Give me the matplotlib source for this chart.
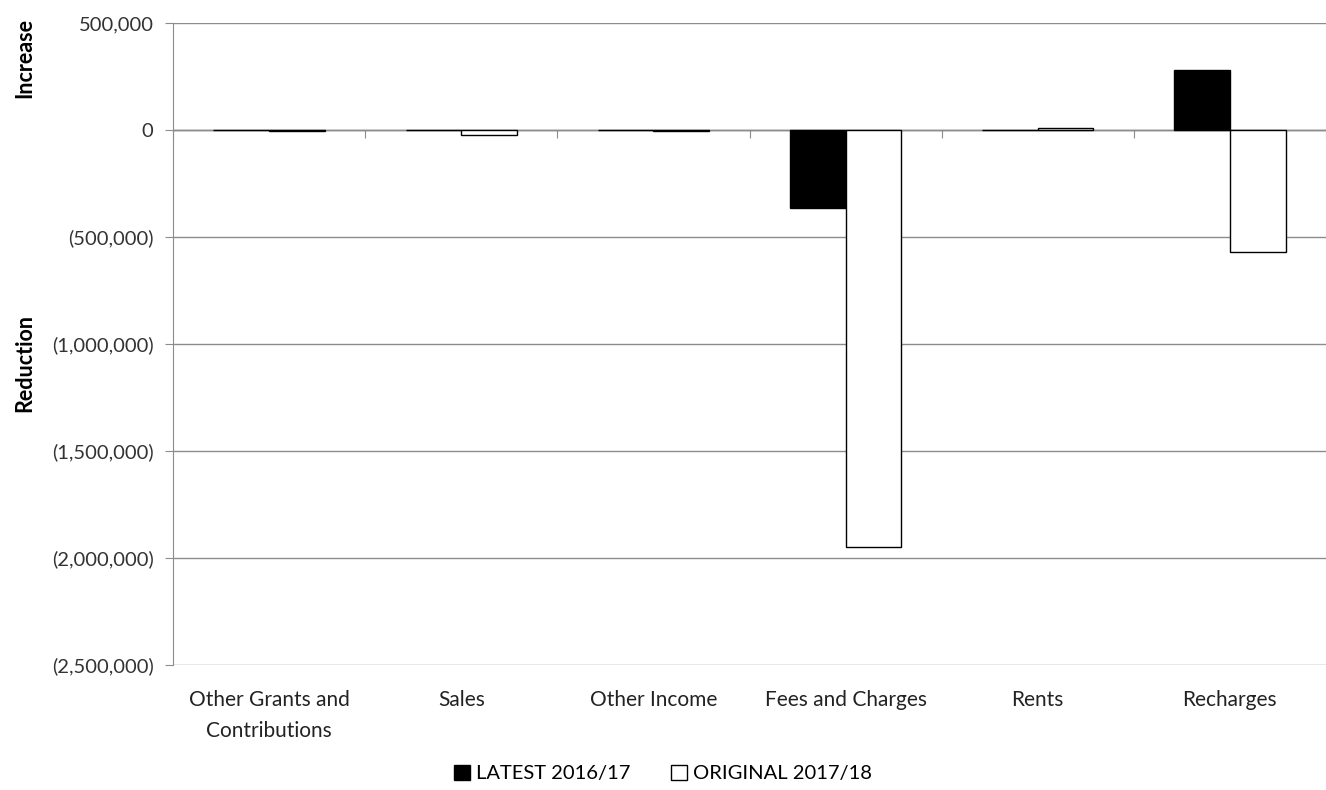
import matplotlib
matplotlib.use('Agg')
from matplotlib import pyplot as plt
import numpy as np

categories = ['Other Grants and\nContributions', 'Sales', 'Other Income',
              'Fees and Charges', 'Rents', 'Recharges']
latest = [0, -2000, 2000, -365000, -2000, 282000]
original = [-5000, -25000, -3000, -1950000, 10000, -570000]
series_names = ['LATEST 2016/17', 'ORIGINAL 2017/18']
y_ticks = [500000, 0, -500000, -1000000, -1500000, -2000000, -2500000]

plt.rcParams['font.family'] = ['Lato', 'DejaVu Sans']

fig = plt.figure(figsize=(13.26, 7.9), dpi=100)
ax = fig.add_axes([0.1305, 0.158, 0.8695, 0.813])

x = np.arange(len(categories))
w = 0.29
ax.bar(x - w / 2, latest, w, color='black', edgecolor='black', linewidth=1,
       label=series_names[0], zorder=3)
ax.bar(x + w / 2, original, w, color='white', edgecolor='black', linewidth=1,
       label=series_names[1], zorder=3)

ymin, ymax = -2500000, 500000
ax.set_ylim(ymin, ymax)
ax.set_xlim(-0.5, len(categories) - 0.5)

def fmt(v):
    if v < 0:
        return '({:,})'.format(int(-v))
    return '{:,}'.format(int(v))

ax.set_yticks(y_ticks)
ax.set_yticklabels([fmt(v) for v in y_ticks], fontsize=14.5, color='#333333')
ax.yaxis.grid(True, color='#8c8c8c', linewidth=1, zorder=0)
ax.tick_params(axis='y', direction='out', length=6, color='#8c8c8c', pad=8)

ax.set_xticks(x)
ax.set_xticklabels(categories, fontsize=15, color='#222222', linespacing=1.65)
ax.tick_params(axis='x', length=0, pad=18)

for side in ['top', 'right', 'bottom']:
    ax.spines[side].set_visible(False)
ax.spines['left'].set_color('#8c8c8c')

# zero line with category separator ticks
ax.axhline(0, color='#8c8c8c', linewidth=1, zorder=2)
zero_pos = (0 - ymin) / (ymax - ymin)
sec = ax.secondary_xaxis(zero_pos)
sec.set_xticks(np.arange(len(categories) + 1) - 0.5)
sec.set_xticklabels([])
sec.tick_params(length=6, color='#8c8c8c', direction='in')
sec.spines['bottom'].set_visible(False)

fig.text(0.011, 0.927, 'Increase', rotation=90, fontsize=15.5, fontweight='bold',
         ha='left', va='center')
fig.text(0.011, 0.54, 'Reduction', rotation=90, fontsize=15.5, fontweight='bold',
         ha='left', va='center')

fig.legend(loc='center', bbox_to_anchor=(0.5, 0.021), bbox_transform=fig.transFigure,
           ncol=2, frameon=False, fontsize=14.5, handlelength=0.8, handleheight=0.8,
           handletextpad=0.3, columnspacing=2.0)

fig.savefig('out.png', dpi=100)
